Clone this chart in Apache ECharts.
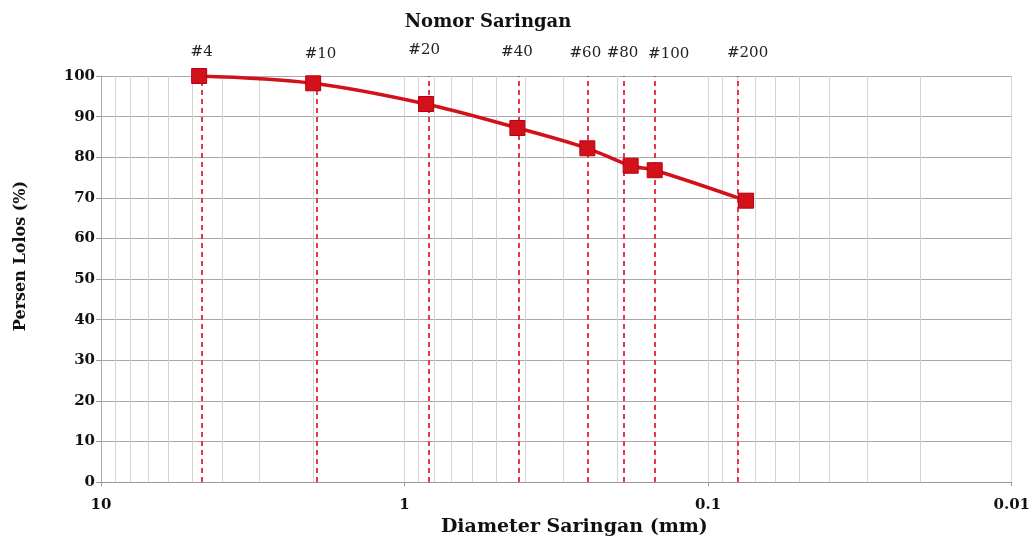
<!DOCTYPE html>
<html>
<head>
<meta charset="utf-8">
<script src="https://cdn.jsdelivr.net/npm/echarts@6/dist/echarts.min.js"></script>
<style>
  html, body { margin: 0; padding: 0; background: #ffffff; }
  #chart { width: 1033px; height: 542px; }
</style>
</head>
<body>
<div id="chart"></div>
<script>
// Sieve analysis: percent passing vs. sieve diameter (log scale, coarse to fine)
const sieveNames = ['#4', '#10', '#20', '#40', '#60', '#80', '#100', '#200'];
const sieveDiameters = [4.75, 2.0, 0.85, 0.425, 0.25, 0.18, 0.15, 0.075];
const percentPassing = [100, 98.2, 93.1, 87.2, 82.2, 77.9, 76.8, 69.3];
// Where each sieve's dashed guide line is drawn
const guideDiameters = [4.66, 1.95, 0.83, 0.425, 0.252, 0.193, 0.154, 0.0767];
// Minor log grid lines between decades
const minorGrid = [9, 8, 7, 6, 5, 4, 3, 2, 0.9, 0.8, 0.7, 0.6, 0.5, 0.4, 0.3, 0.2,
                   0.09, 0.08, 0.07, 0.06, 0.05, 0.04, 0.03, 0.02, 1, 0.1];
const yTicks = [0, 10, 20, 30, 40, 50, 60, 70, 80, 90, 100];

// Small nudges so the crowded sieve names above the plot don't collide
const sieveLabelOffsets = [[0, 0], [4, 2], [-5, -2], [-2, 0], [-2, 1], [-1, 1], [14, 2], [10, 1]];

const serif = '"DejaVu Serif", "Liberation Serif", serif';
const red = '#d3111b';
const guideRed = '#e5354f';

const chart = echarts.init(document.getElementById('chart'));

const points = sieveDiameters.map((d, i) => [d, percentPassing[i]]);

chart.setOption({
  animation: false,
  backgroundColor: '#ffffff',
  title: {
    text: 'Nomor Saringan',
    left: 483,
    top: 8,
    textAlign: 'center',
    textStyle: { fontFamily: serif, fontWeight: 'bold', fontSize: 18, color: '#111' }
  },
  grid: { left: 101, right: 20, top: 76, bottom: 53 },
  xAxis: {
    type: 'log',
    logBase: 10,
    min: 0.01,
    max: 10,
    inverse: true,
    name: 'Diameter Saringan (mm)',
    nameLocation: 'middle',
    nameGap: 35,
    nameTextStyle: {
      fontFamily: serif, fontWeight: 'bold', fontSize: 19, color: '#111',
      padding: [0, 0, 0, 36]
    },
    axisLine: { show: true, onZero: false, lineStyle: { color: '#999', width: 1 } },
    axisTick: { show: true, length: 4, lineStyle: { color: '#999' } },
    axisLabel: {
      fontFamily: serif, fontWeight: 'bold', fontSize: 15, color: '#111', margin: 16,
      formatter: v => String(v)
    },
    splitLine: { show: false }
  },
  yAxis: {
    type: 'value',
    min: 0,
    max: 100,
    interval: 10,
    name: 'Persen Lolos (%)',
    nameLocation: 'middle',
    nameGap: 72,
    nameTextStyle: {
      fontFamily: serif, fontWeight: 'bold', fontSize: 16, color: '#111',
      padding: [0, 0, 0, 46]
    },
    axisLine: { show: true, lineStyle: { color: '#aaa', width: 1 } },
    axisTick: { show: true, length: 5, lineStyle: { color: '#999' } },
    axisLabel: {
      fontFamily: serif, fontWeight: 'bold', fontSize: 15, color: '#111', margin: 6,
      formatter: v => yTicks.includes(v) ? String(v) : ''
    },
    splitLine: { show: true, lineStyle: { color: '#a8a8a8', width: 1 } }
  },
  series: [
    {
      // vertical log grid
      type: 'line',
      data: [],
      silent: true,
      markLine: {
        silent: true,
        symbol: 'none',
        label: { show: false },
        lineStyle: { color: '#d4d4d4', width: 1, type: 'solid' },
        data: minorGrid.map(v => ({ xAxis: v })).concat([{ xAxis: 0.01 }])
      }
    },
    {
      // sieve guide lines with their names on top
      type: 'line',
      data: [],
      silent: true,
      markLine: {
        silent: true,
        symbol: 'none',
        lineStyle: { color: guideRed, width: 2, type: [5, 4] },
        label: {
          show: true,
          position: 'end',
          distance: 16,
          fontFamily: serif,
          fontSize: 15,
          color: '#222'
        },
        data: guideDiameters.map((v, i) => ({
          xAxis: v,
          label: { formatter: sieveNames[i], offset: sieveLabelOffsets[i] }
        }))
      }
    },
    {
      name: 'Persen Lolos',
      type: 'line',
      data: points,
      smooth: 0.35,
      symbol: 'rect',
      symbolSize: 15,
      lineStyle: { color: red, width: 3.5 },
      itemStyle: { color: red, borderColor: '#b50010', borderWidth: 1 },
      z: 5
    }
  ]
});
</script>
</body>
</html>
